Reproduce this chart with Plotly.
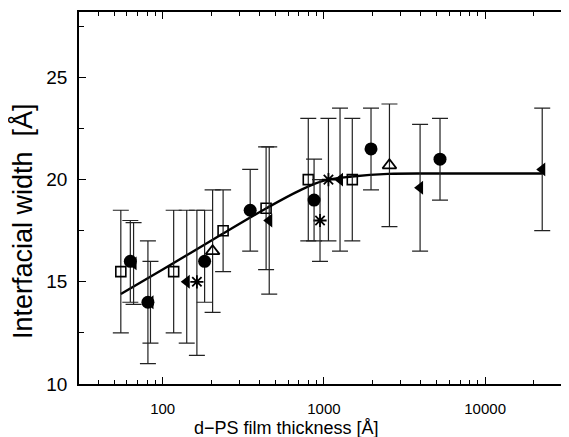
import plotly.graph_objects as go

# ---- data ----
sq_x = [55, 117, 237, 438, 800, 1500]
sq_y = [15.5, 15.5, 17.5, 18.6, 20.0, 20.0]
sq_ep = [3, 3, 2, 3, 3, 3]
sq_em = [3, 3, 2, 3, 3, 3]

ci_x = [63, 81, 182, 349, 869, 1960, 5250]
ci_y = [16.0, 14.0, 16.0, 18.5, 19.0, 21.5, 21.0]
ci_ep = [2, 3, 2.5, 2, 2, 2, 2]
ci_em = [2, 3, 2, 2, 2, 2, 2]

tl_x = [66, 84, 141, 458, 1259, 3950, 22600]
tl_y = [15.9, 14.0, 15.0, 18.0, 20.0, 19.6, 20.5]
tl_ep = [2, 2, 3.5, 3.6, 3.5, 3.1, 3.0]
tl_em = [2, 2, 3, 3.6, 3.5, 3.1, 3.0]

as_x = [163, 946, 1067]
as_y = [15.0, 18.0, 20.0]
as_ep = [3.5, 2, 3]
as_em = [3.6, 2, 3]

tu_x = [204, 2550]
tu_y = [16.5, 20.7]
tu_ep = [3, 3]
tu_em = [3, 3]

fit_x = [55, 100, 230, 440, 700, 1000, 1500, 2500, 5000, 22600]
fit_y = [14.4, 15.6, 17.3, 18.6, 19.45, 19.95, 20.15, 20.28, 20.3, 20.3]

x_tickvals = [100, 1000, 10000]
x_ticktext = ["100", "1000", "10000"]
x_minor = [40, 50, 60, 70, 80, 90, 200, 300, 400, 500, 600, 700, 800, 900,
           2000, 3000, 4000, 5000, 6000, 7000, 8000, 9000, 20000, 30000]
y_tickvals = [10, 15, 20, 25]
y_minor = [12.5, 17.5, 22.5, 27.5]

FONT = "Liberation Sans, Arial, sans-serif"
ERR = "#222222"

fig = go.Figure()

fig.add_trace(go.Scatter(x=fit_x, y=fit_y, mode="lines", line=dict(color="black", width=2.4, shape="spline"),
                         showlegend=False, hoverinfo="skip"))

def add_series(xs, ys, ep, em, symbol, size, lw=1.6):
    fig.add_trace(go.Scatter(
        x=xs, y=ys, mode="markers",
        marker=dict(symbol=symbol, size=size, color="black", line=dict(color="black", width=lw)),
        error_y=dict(type="data", symmetric=False, array=ep, arrayminus=em,
                     color=ERR, thickness=1.2, width=8),
        showlegend=False))

add_series(sq_x, sq_y, sq_ep, sq_em, "square-open", 10)
add_series(tu_x, tu_y, tu_ep, tu_em, "triangle-up-open", 12, 1.8)
add_series(as_x, as_y, as_ep, as_em, "asterisk-open", 11, 1.8)
add_series(tl_x, tl_y, tl_ep, tl_em, "triangle-left", 12, 0)
add_series(ci_x, ci_y, ci_ep, ci_em, "circle", 13, 0)

axis_common = dict(showline=True, linecolor="black", linewidth=1.8, mirror="ticks",
                   ticks="inside", ticklen=7, tickwidth=1.2, tickcolor="black",
                   showgrid=False, zeroline=False, automargin=False)

fig.update_xaxes(type="log", range=[1.481, 4.514], tickmode="array",
                 tickvals=x_tickvals, ticktext=x_ticktext,
                 tickfont=dict(family=FONT, size=15, color="black"),
                 ticklabelstandoff=10,
                 minor=dict(tickmode="array", tickvals=x_minor, ticks="inside", ticklen=4,
                            tickwidth=1.2, tickcolor="black", showgrid=False),
                 **axis_common)
fig.update_yaxes(range=[10, 28.2], tickmode="array", tickvals=y_tickvals,
                 tickfont=dict(family=FONT, size=19, color="black"),
                 ticklabelstandoff=6,
                 minor=dict(tickmode="array", tickvals=y_minor, ticks="inside", ticklen=5,
                            tickwidth=1.2, tickcolor="black", showgrid=False),
                 **axis_common)

fig.add_annotation(text="d\u2212PS film thickness [Å]", xref="paper", yref="paper",
                   x=0.425, y=-0.119, xanchor="center", yanchor="middle", showarrow=False,
                   font=dict(family=FONT, size=18, color="black"))
fig.add_annotation(text="Interfacial width\u00a0 [Å]", xref="paper", yref="paper",
                   x=-0.1166, y=0.438, xanchor="center", yanchor="middle", showarrow=False,
                   textangle=-90, font=dict(family=FONT, size=27, color="black"))

# the page body has an 8px default margin, so the figure is sized/shifted to compensate
fig.update_layout(width=561, height=429, margin=dict(l=71, r=1, t=4, b=53),
                  plot_bgcolor="white", paper_bgcolor="white", showlegend=False)

fig.write_html("out.html")
